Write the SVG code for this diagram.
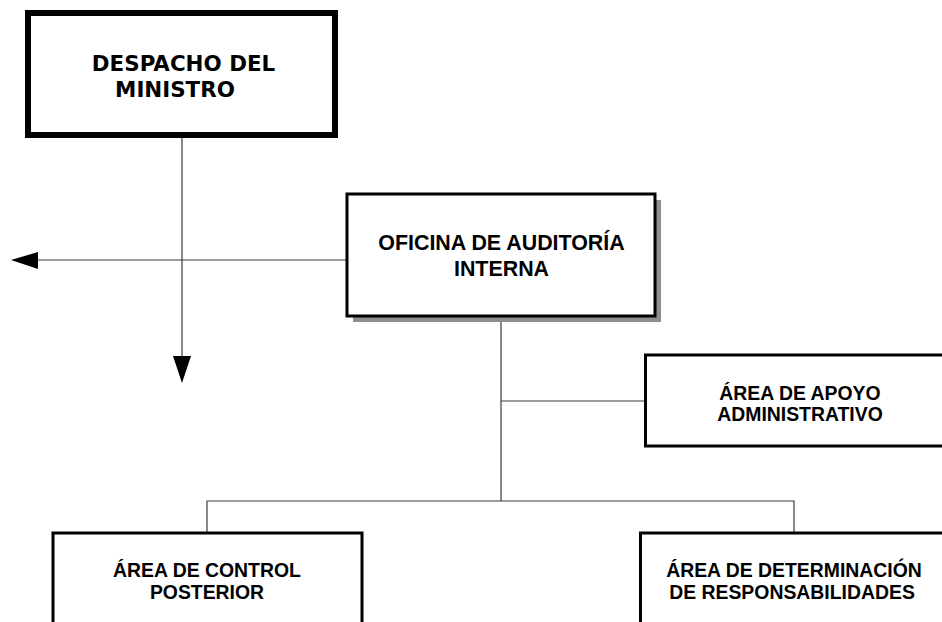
<svg xmlns="http://www.w3.org/2000/svg" width="942" height="622" viewBox="0 0 942 622">
<style>
.box{fill:#fff;stroke:#000;stroke-width:3}
.t{font-family:"Liberation Sans",Arial,sans-serif;font-weight:bold;fill:#000;text-anchor:middle}
.a{font-size:19.4px}
.c{fill:none;stroke:#3a3a3a;stroke-width:1.2}
.ah{fill:#000}
</style>
<rect width="942" height="622" fill="#fff"/>
<g id="connectors">
<line class="c" x1="182" y1="138" x2="182" y2="358"/>
<line class="c" x1="36" y1="260" x2="346" y2="260"/>
<polygon class="ah" points="173,356 191,356 182,383"/>
<polygon class="ah" points="11,260 38,252 38,269"/>
<line class="c" x1="501" y1="317" x2="501" y2="501"/>
<line class="c" x1="501" y1="401" x2="645" y2="401"/>
<polyline class="c" points="207,532 207,501 794,501 794,532"/>
</g>
<g id="despacho">
<rect x="28" y="13" width="307" height="122" fill="#fff" stroke="#000" stroke-width="6"/>
<text x="183.5" y="71" font-family="'DejaVu Sans',sans-serif" font-weight="bold" font-size="21.4" text-anchor="middle">DESPACHO DEL</text>
<text x="175" y="97" font-family="'DejaVu Sans',sans-serif" font-weight="bold" font-size="21.4" text-anchor="middle">MINISTRO</text>
</g>
<g id="oficina">
<rect x="353" y="200" width="308" height="122" fill="#8f8f8f"/>
<rect class="box" x="347" y="194" width="308" height="122"/>
<text class="t" x="501.5" y="250" font-size="21.4">OFICINA DE AUDITORÍA</text>
<text class="t" x="501.5" y="276" font-size="21.4">INTERNA</text>
</g>
<g id="apoyo">
<rect class="box" x="645.5" y="355" width="309" height="91"/>
<text class="t a" x="800" y="400">ÁREA DE APOYO</text>
<text class="t a" x="800" y="420.5">ADMINISTRATIVO</text>
</g>
<g id="control">
<rect class="box" x="53" y="533" width="309" height="120"/>
<text class="t a" x="207" y="577">ÁREA DE CONTROL</text>
<text class="t a" x="207" y="598.5">POSTERIOR</text>
</g>
<g id="determinacion">
<rect class="box" x="640.5" y="533" width="309" height="120"/>
<text class="t a" x="794" y="577">ÁREA DE DETERMINACIÓN</text>
<text class="t a" x="792" y="598.5">DE RESPONSABILIDADES</text>
</g>
</svg>
